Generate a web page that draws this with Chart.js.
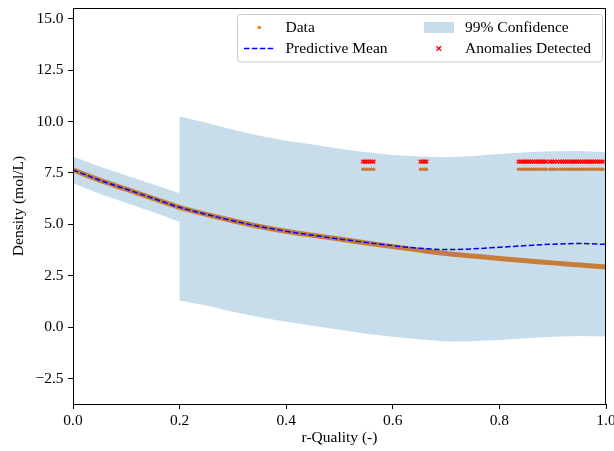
<!DOCTYPE html>
<html><head><meta charset="utf-8">
<script src="https://cdn.jsdelivr.net/npm/chart.js@4.4.1/dist/chart.umd.min.js"></script>
<style>html,body{margin:0;padding:0;background:#fff;} #wrap{width:614px;height:451px;}</style>
</head><body><div id="wrap"><canvas id="c" width="614" height="451"></canvas></div>
<script>
const FONT = '"Liberation Serif", "Times New Roman", serif';
const FONT_SIZE = 15.5;

const xTicks = [0.0, 0.2, 0.4, 0.6, 0.8, 1.0];
const yTicks = [-2.5, 0.0, 2.5, 5.0, 7.5, 10.0, 12.5, 15.0];
const xTitle = 'r-Quality (-)';
const yTitle = 'Density (mol/L)';
const seriesLabels = ['Data', 'Predictive Mean', '99% Confidence', 'Anomalies Detected'];

// smooth curves
const curveX = [0.00,0.05,0.10,0.15,0.20,0.25,0.30,0.35,0.40,0.45,0.50,0.55,0.60,0.65,0.70,0.75,0.80,0.85,0.90,0.95,1.00];
const dataY  = [7.65,7.15,6.71,6.27,5.83,5.49,5.18,4.90,4.67,4.47,4.29,4.10,3.92,3.75,3.59,3.46,3.34,3.23,3.13,3.03,2.93];
const meanY  = [7.65,7.15,6.71,6.27,5.83,5.49,5.18,4.90,4.67,4.47,4.29,4.12,3.97,3.84,3.78,3.81,3.89,3.97,4.04,4.07,4.03];

// 99% confidence band (upper / lower edges, with the jump at 0.2)
const confX     = [0.00,0.05,0.10,0.15,0.20,0.20,0.25,0.30,0.35,0.40,0.45,0.50,0.55,0.60,0.65,0.70,0.75,0.80,0.85,0.90,0.95,1.00];
const confUpper = [8.30,7.81,7.38,6.95,6.51,10.25,9.94,9.60,9.31,9.07,8.89,8.68,8.51,8.38,8.30,8.27,8.32,8.42,8.51,8.56,8.57,8.51];
const confLower = [7.00,6.49,6.04,5.60,5.13,1.30,1.06,0.76,0.49,0.27,0.07,-0.12,-0.31,-0.46,-0.60,-0.69,-0.68,-0.62,-0.53,-0.46,-0.43,-0.45];

// anomalous points
const anomalyX = [0.544,0.548,0.552,0.556,0.560,0.564,
  0.652,0.656,0.660,0.663,
  0.836,0.840,0.844,0.848,0.852,0.856,0.860,0.864,0.868,0.872,0.876,0.880,0.884,0.888,
  0.895,0.899,0.903,0.908,
  0.914,0.918,0.922,0.926,0.930,0.934,0.938,0.942,0.946,0.950,0.954,0.958,0.962,0.966,0.970,0.974,0.978,0.982,0.986,0.990,0.994];
const anomalyDataY = [7.68,7.68,7.68,7.68,7.68,7.68,
  7.68,7.68,7.68,7.68,
  7.68,7.68,7.68,7.68,7.68,7.68,7.68,7.68,7.68,7.68,7.68,7.68,7.68,7.68,
  7.68,7.68,7.68,7.68,
  7.68,7.68,7.68,7.68,7.68,7.68,7.68,7.68,7.68,7.68,7.68,7.68,7.68,7.68,7.68,7.68,7.68,7.68,7.68,7.68,7.68];
const anomalyFlagY = [8.05,8.05,8.05,8.05,8.05,8.05,
  8.05,8.05,8.05,8.05,
  8.05,8.05,8.05,8.05,8.05,8.05,8.05,8.05,8.05,8.05,8.05,8.05,8.05,8.05,
  8.05,8.05,8.05,8.05,
  8.05,8.05,8.05,8.05,8.05,8.05,8.05,8.05,8.05,8.05,8.05,8.05,8.05,8.05,8.05,8.05,8.05,8.05,8.05,8.05,8.05];

const ORANGE = '#ff7f0e';
const BAND = 'rgba(31,119,180,0.25)';
const pts = (xs, ys) => xs.map((x, i) => ({x: x, y: ys[i]}));

Chart.defaults.font.family = FONT;
Chart.defaults.font.size = FONT_SIZE;
Chart.defaults.color = '#000';

const spines = {
  id: 'spines',
  afterDraw(chart) {
    const {ctx, chartArea: a} = chart;
    ctx.save();
    ctx.strokeStyle = '#000';
    ctx.lineWidth = 1;
    ctx.strokeRect(Math.round(a.left) + 0.5, Math.round(a.top) + 0.5,
                   Math.round(a.right - a.left) - 1, Math.round(a.bottom - a.top));
    ctx.restore();
  }
};

const mplLegend = {
  id: 'mplLegend',
  afterDraw(chart) {
    const ctx = chart.ctx;
    const x0 = 237.5, y0 = 14.5, w = 365, h = 47.5, r = 3;
    ctx.save();
    ctx.beginPath();
    ctx.moveTo(x0 + r, y0);
    ctx.arcTo(x0 + w, y0, x0 + w, y0 + h, r);
    ctx.arcTo(x0 + w, y0 + h, x0, y0 + h, r);
    ctx.arcTo(x0, y0 + h, x0, y0, r);
    ctx.arcTo(x0, y0, x0 + w, y0, r);
    ctx.closePath();
    ctx.fillStyle = 'rgba(255,255,255,0.8)';
    ctx.fill();
    ctx.strokeStyle = '#cccccc';
    ctx.lineWidth = 1;
    ctx.stroke();

    const row1 = 27.5, row2 = 48.5;
    // Data
    ctx.fillStyle = ORANGE;
    ctx.beginPath(); ctx.arc(259.3, row1, 1.8, 0, Math.PI * 2); ctx.fill();
    // Predictive Mean
    ctx.strokeStyle = '#0000ff'; ctx.lineWidth = 1.5; ctx.setLineDash([5.5, 2.4]);
    ctx.beginPath(); ctx.moveTo(244, row2); ctx.lineTo(274, row2); ctx.stroke();
    ctx.setLineDash([]);
    // Confidence
    ctx.fillStyle = BAND;
    ctx.fillRect(424, row1 - 5.5, 30, 11);
    // Anomalies
    ctx.strokeStyle = '#ff0000'; ctx.lineWidth = 1.3;
    const cx = 438.8, s = 2.3;
    ctx.beginPath();
    ctx.moveTo(cx - s, row2 - s); ctx.lineTo(cx + s, row2 + s);
    ctx.moveTo(cx - s, row2 + s); ctx.lineTo(cx + s, row2 - s);
    ctx.stroke();

    ctx.fillStyle = '#000';
    ctx.font = FONT_SIZE + 'px ' + FONT;
    ctx.textBaseline = 'middle';
    ctx.textAlign = 'left';
    ctx.fillText(seriesLabels[0], 285.5, row1);
    ctx.fillText(seriesLabels[1], 285.5, row2);
    ctx.fillText(seriesLabels[2], 465, row1);
    ctx.fillText(seriesLabels[3], 465, row2);
    ctx.restore();
  }
};

const fmt = v => (v < 0 ? '\u2212' : '') + Math.abs(v).toFixed(1);

new Chart(document.getElementById('c'), {
  type: 'line',
  data: {
    datasets: [
      { label: seriesLabels[0], type: 'line', data: pts(curveX, dataY), borderColor: ORANGE,
        borderWidth: 5, pointRadius: 0, cubicInterpolationMode: 'monotone', fill: false, order: 5 },
      { label: seriesLabels[0] + ' (anomalous)', type: 'scatter', data: pts(anomalyX, anomalyDataY),
        backgroundColor: ORANGE, borderWidth: 0, pointRadius: 1.8, order: 5 },
      { label: seriesLabels[2] + ' upper', type: 'line', data: pts(confX, confUpper),
        borderColor: 'rgba(0,0,0,0)', borderWidth: 0, pointRadius: 0, tension: 0,
        backgroundColor: BAND, fill: '+1', order: 3 },
      { label: seriesLabels[2] + ' lower', type: 'line', data: pts(confX, confLower),
        borderColor: 'rgba(0,0,0,0)', borderWidth: 0, pointRadius: 0, tension: 0, fill: false, order: 3 },
      { label: seriesLabels[1], type: 'line', data: pts(curveX, meanY), borderColor: '#0000ff',
        borderWidth: 1.5, borderDash: [5.5, 2.4], pointRadius: 0, cubicInterpolationMode: 'monotone',
        fill: false, order: 2 },
      { label: seriesLabels[3], type: 'scatter', data: pts(anomalyX, anomalyFlagY),
        pointStyle: 'crossRot', pointRadius: 2.6, borderColor: '#ff0000', borderWidth: 1.3,
        backgroundColor: '#ff0000', order: 1 }
    ]
  },
  options: {
    responsive: false,
    devicePixelRatio: 1,
    animation: false,
    events: [],
    layout: { padding: { top: 8, right: 8, left: 0, bottom: 0 } },
    plugins: { legend: { display: false }, tooltip: { enabled: false } },
    scales: {
      x: {
        type: 'linear', min: 0, max: 1,
        afterBuildTicks: s => { s.ticks = xTicks.map(v => ({value: v})); },
        afterFit: s => { s.height = 47; s.paddingLeft = 0; s.paddingRight = 0; },
        ticks: { callback: fmt, padding: 3, autoSkip: false, maxRotation: 0, color: '#000' },
        grid: { display: true, drawOnChartArea: false, drawTicks: true, tickLength: 5, color: '#000', lineWidth: 1 },
        border: { display: false },
        title: { display: true, text: xTitle, color: '#000', padding: { top: 0, bottom: 4 },
                 font: { size: FONT_SIZE, lineHeight: 1.2 } }
      },
      y: {
        type: 'linear', min: -3.73, max: 15.52,
        afterBuildTicks: s => { s.ticks = yTicks.map(v => ({value: v})); },
        afterFit: s => { s.width = 73; s.paddingTop = 0; s.paddingBottom = 0; },
        ticks: { callback: fmt, padding: 4.5, autoSkip: false, color: '#000' },
        grid: { display: true, drawOnChartArea: false, drawTicks: true, tickLength: 5, color: '#000', lineWidth: 1 },
        border: { display: false },
        title: { display: true, text: yTitle, color: '#000', padding: { top: 10, bottom: 0 },
                 font: { size: FONT_SIZE, lineHeight: 1.2 } }
      }
    }
  },
  plugins: [spines, mplLegend]
});
</script>
</body></html>
